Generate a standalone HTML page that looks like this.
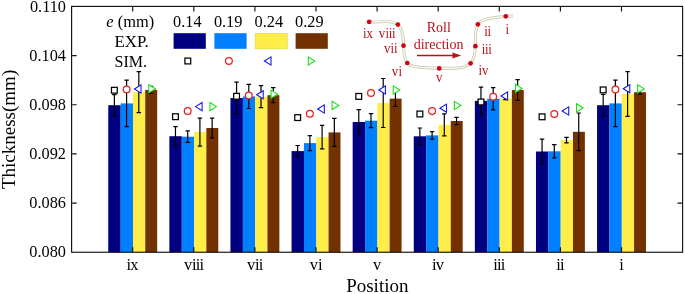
<!DOCTYPE html><html><head><meta charset="utf-8"><style>html,body{margin:0;padding:0;background:#fff;}svg{display:block;will-change:transform;}text{font-family:"Liberation Serif",serif;}</style></head><body>
<svg width="685" height="294" viewBox="0 0 685 294">
<rect width="685" height="294" fill="#fff"/>
<rect x="108.26" y="105.20" width="12.44" height="147.05" fill="#000080"/>
<rect x="120.66" y="103.40" width="12.36" height="148.85" fill="#0080FF"/>
<rect x="132.98" y="92.20" width="12.32" height="160.05" fill="#FFEE4A"/>
<rect x="145.26" y="89.90" width="11.92" height="162.35" fill="#743100"/>
<rect x="169.36" y="136.20" width="12.44" height="116.05" fill="#000080"/>
<rect x="181.76" y="136.70" width="12.36" height="115.55" fill="#0080FF"/>
<rect x="194.08" y="132.10" width="12.32" height="120.15" fill="#FFEE4A"/>
<rect x="206.36" y="128.00" width="11.92" height="124.25" fill="#743100"/>
<rect x="230.46" y="98.00" width="12.44" height="154.25" fill="#000080"/>
<rect x="242.86" y="96.40" width="12.36" height="155.85" fill="#0080FF"/>
<rect x="255.18" y="96.60" width="12.32" height="155.65" fill="#FFEE4A"/>
<rect x="267.46" y="95.20" width="11.92" height="157.05" fill="#743100"/>
<rect x="291.56" y="151.10" width="12.44" height="101.15" fill="#000080"/>
<rect x="303.96" y="143.10" width="12.36" height="109.15" fill="#0080FF"/>
<rect x="316.28" y="137.10" width="12.32" height="115.15" fill="#FFEE4A"/>
<rect x="328.56" y="132.40" width="11.92" height="119.85" fill="#743100"/>
<rect x="352.66" y="122.00" width="12.44" height="130.25" fill="#000080"/>
<rect x="365.06" y="120.70" width="12.36" height="131.55" fill="#0080FF"/>
<rect x="377.38" y="103.00" width="12.32" height="149.25" fill="#FFEE4A"/>
<rect x="389.66" y="98.60" width="11.92" height="153.65" fill="#743100"/>
<rect x="413.76" y="136.30" width="12.44" height="115.95" fill="#000080"/>
<rect x="426.16" y="135.40" width="12.36" height="116.85" fill="#0080FF"/>
<rect x="438.48" y="124.90" width="12.32" height="127.35" fill="#FFEE4A"/>
<rect x="450.76" y="121.00" width="11.92" height="131.25" fill="#743100"/>
<rect x="474.86" y="100.90" width="12.44" height="151.35" fill="#000080"/>
<rect x="487.26" y="98.70" width="12.36" height="153.55" fill="#0080FF"/>
<rect x="499.58" y="98.40" width="12.32" height="153.85" fill="#FFEE4A"/>
<rect x="511.86" y="90.00" width="11.92" height="162.25" fill="#743100"/>
<rect x="535.96" y="151.50" width="12.44" height="100.75" fill="#000080"/>
<rect x="548.36" y="151.30" width="12.36" height="100.95" fill="#0080FF"/>
<rect x="560.68" y="140.10" width="12.32" height="112.15" fill="#FFEE4A"/>
<rect x="572.96" y="131.80" width="11.92" height="120.45" fill="#743100"/>
<rect x="597.06" y="105.20" width="12.44" height="147.05" fill="#000080"/>
<rect x="609.46" y="103.40" width="12.36" height="148.85" fill="#0080FF"/>
<rect x="621.78" y="94.00" width="12.32" height="158.25" fill="#FFEE4A"/>
<rect x="634.06" y="92.20" width="11.92" height="160.05" fill="#743100"/>
<path d="M114.37,94.60V115.80M112.17,94.60H116.57M112.17,115.80H116.57" stroke="#000" stroke-width="1.2" fill="none"/>
<path d="M126.59,80.20V126.60M124.39,80.20H128.79M124.39,126.60H128.79" stroke="#000" stroke-width="1.2" fill="none"/>
<path d="M138.81,71.70V112.70M136.61,71.70H141.01M136.61,112.70H141.01" stroke="#000" stroke-width="1.2" fill="none"/>
<path d="M151.03,86.30V93.50M148.83,86.30H153.23M148.83,93.50H153.23" stroke="#000" stroke-width="1.2" fill="none"/>
<path d="M175.47,126.60V145.80M173.27,126.60H177.67M173.27,145.80H177.67" stroke="#000" stroke-width="1.2" fill="none"/>
<path d="M187.69,130.95V142.45M185.49,130.95H189.89M185.49,142.45H189.89" stroke="#000" stroke-width="1.2" fill="none"/>
<path d="M199.91,118.10V146.10M197.71,118.10H202.11M197.71,146.10H202.11" stroke="#000" stroke-width="1.2" fill="none"/>
<path d="M212.13,118.20V137.80M209.93,118.20H214.33M209.93,137.80H214.33" stroke="#000" stroke-width="1.2" fill="none"/>
<path d="M236.57,82.10V113.90M234.37,82.10H238.77M234.37,113.90H238.77" stroke="#000" stroke-width="1.2" fill="none"/>
<path d="M248.79,84.30V108.50M246.59,84.30H250.99M246.59,108.50H250.99" stroke="#000" stroke-width="1.2" fill="none"/>
<path d="M261.01,85.60V107.60M258.81,85.60H263.21M258.81,107.60H263.21" stroke="#000" stroke-width="1.2" fill="none"/>
<path d="M273.23,87.70V102.70M271.03,87.70H275.43M271.03,102.70H275.43" stroke="#000" stroke-width="1.2" fill="none"/>
<path d="M297.67,145.50V156.70M295.47,145.50H299.87M295.47,156.70H299.87" stroke="#000" stroke-width="1.2" fill="none"/>
<path d="M309.89,135.60V150.60M307.69,135.60H312.09M307.69,150.60H312.09" stroke="#000" stroke-width="1.2" fill="none"/>
<path d="M322.11,125.30V148.90M319.91,125.30H324.31M319.91,148.90H324.31" stroke="#000" stroke-width="1.2" fill="none"/>
<path d="M334.33,118.40V146.40M332.13,118.40H336.53M332.13,146.40H336.53" stroke="#000" stroke-width="1.2" fill="none"/>
<path d="M358.77,109.60V134.40M356.57,109.60H360.97M356.57,134.40H360.97" stroke="#000" stroke-width="1.2" fill="none"/>
<path d="M370.99,113.70V127.70M368.79,113.70H373.19M368.79,127.70H373.19" stroke="#000" stroke-width="1.2" fill="none"/>
<path d="M383.21,78.50V127.50M381.01,78.50H385.41M381.01,127.50H385.41" stroke="#000" stroke-width="1.2" fill="none"/>
<path d="M395.43,90.70V106.50M393.23,90.70H397.63M393.23,106.50H397.63" stroke="#000" stroke-width="1.2" fill="none"/>
<path d="M419.87,128.00V144.60M417.67,128.00H422.07M417.67,144.60H422.07" stroke="#000" stroke-width="1.2" fill="none"/>
<path d="M432.09,131.70V139.10M429.89,131.70H434.29M429.89,139.10H434.29" stroke="#000" stroke-width="1.2" fill="none"/>
<path d="M444.31,113.90V135.90M442.11,113.90H446.51M442.11,135.90H446.51" stroke="#000" stroke-width="1.2" fill="none"/>
<path d="M456.53,117.40V124.60M454.33,117.40H458.73M454.33,124.60H458.73" stroke="#000" stroke-width="1.2" fill="none"/>
<path d="M480.97,87.20V114.60M478.77,87.20H483.17M478.77,114.60H483.17" stroke="#000" stroke-width="1.2" fill="none"/>
<path d="M493.19,87.60V109.80M490.99,87.60H495.39M490.99,109.80H495.39" stroke="#000" stroke-width="1.2" fill="none"/>
<path d="M505.41,97.20V99.60M503.21,97.20H507.61M503.21,99.60H507.61" stroke="#000" stroke-width="1.2" fill="none"/>
<path d="M517.63,79.60V100.40M515.43,79.60H519.83M515.43,100.40H519.83" stroke="#000" stroke-width="1.2" fill="none"/>
<path d="M542.07,139.10V163.90M539.87,139.10H544.27M539.87,163.90H544.27" stroke="#000" stroke-width="1.2" fill="none"/>
<path d="M554.29,144.70V157.90M552.09,144.70H556.49M552.09,157.90H556.49" stroke="#000" stroke-width="1.2" fill="none"/>
<path d="M566.51,137.30V142.90M564.31,137.30H568.71M564.31,142.90H568.71" stroke="#000" stroke-width="1.2" fill="none"/>
<path d="M578.73,113.00V150.60M576.53,113.00H580.93M576.53,150.60H580.93" stroke="#000" stroke-width="1.2" fill="none"/>
<path d="M603.17,94.30V116.10M600.97,94.30H605.37M600.97,116.10H605.37" stroke="#000" stroke-width="1.2" fill="none"/>
<path d="M615.39,80.20V126.60M613.19,80.20H617.59M613.19,126.60H617.59" stroke="#000" stroke-width="1.2" fill="none"/>
<path d="M627.61,71.60V116.40M625.41,71.60H629.81M625.41,116.40H629.81" stroke="#000" stroke-width="1.2" fill="none"/>
<path d="M639.83,90.20V94.20M637.63,90.20H642.03M637.63,94.20H642.03" stroke="#000" stroke-width="1.2" fill="none"/>
<rect x="111.47" y="87.35" width="5.80" height="5.80" fill="#fff" stroke="#000000" stroke-width="1.25"/>
<circle cx="126.59" cy="89.40" r="3.40" fill="#fff" stroke="#E82020" stroke-width="1.25"/>
<path d="M134.41,89.00 L141.01,84.90 L141.01,93.10 Z" fill="#fff" stroke="#1010F0" stroke-width="1.05" stroke-linejoin="miter"/>
<path d="M155.43,88.80 L148.83,84.70 L148.83,92.90 Z" fill="#fff" stroke="#10E010" stroke-width="1.05" stroke-linejoin="miter"/>
<rect x="172.57" y="113.80" width="5.80" height="5.80" fill="#fff" stroke="#000000" stroke-width="1.25"/>
<circle cx="187.69" cy="111.00" r="3.40" fill="#fff" stroke="#E82020" stroke-width="1.25"/>
<path d="M195.51,106.60 L202.11,102.50 L202.11,110.70 Z" fill="#fff" stroke="#1010F0" stroke-width="1.05" stroke-linejoin="miter"/>
<path d="M216.53,106.60 L209.93,102.50 L209.93,110.70 Z" fill="#fff" stroke="#10E010" stroke-width="1.05" stroke-linejoin="miter"/>
<rect x="233.67" y="93.40" width="5.80" height="5.80" fill="#fff" stroke="#000000" stroke-width="1.25"/>
<circle cx="248.79" cy="95.40" r="3.40" fill="#fff" stroke="#E82020" stroke-width="1.25"/>
<path d="M256.61,94.80 L263.21,90.70 L263.21,98.90 Z" fill="#fff" stroke="#1010F0" stroke-width="1.05" stroke-linejoin="miter"/>
<path d="M277.63,94.20 L271.03,90.10 L271.03,98.30 Z" fill="#fff" stroke="#10E010" stroke-width="1.05" stroke-linejoin="miter"/>
<rect x="294.77" y="114.70" width="5.80" height="5.80" fill="#fff" stroke="#000000" stroke-width="1.25"/>
<circle cx="309.89" cy="113.70" r="3.40" fill="#fff" stroke="#E82020" stroke-width="1.25"/>
<path d="M317.71,109.00 L324.31,104.90 L324.31,113.10 Z" fill="#fff" stroke="#1010F0" stroke-width="1.05" stroke-linejoin="miter"/>
<path d="M338.73,105.40 L332.13,101.30 L332.13,109.50 Z" fill="#fff" stroke="#10E010" stroke-width="1.05" stroke-linejoin="miter"/>
<rect x="355.87" y="93.50" width="5.80" height="5.80" fill="#fff" stroke="#000000" stroke-width="1.25"/>
<circle cx="370.99" cy="93.00" r="3.40" fill="#fff" stroke="#E82020" stroke-width="1.25"/>
<path d="M378.81,90.00 L385.41,85.90 L385.41,94.10 Z" fill="#fff" stroke="#1010F0" stroke-width="1.05" stroke-linejoin="miter"/>
<path d="M399.83,90.00 L393.23,85.90 L393.23,94.10 Z" fill="#fff" stroke="#10E010" stroke-width="1.05" stroke-linejoin="miter"/>
<rect x="416.97" y="111.10" width="5.80" height="5.80" fill="#fff" stroke="#000000" stroke-width="1.25"/>
<circle cx="432.09" cy="111.10" r="3.40" fill="#fff" stroke="#E82020" stroke-width="1.25"/>
<path d="M439.91,108.20 L446.51,104.10 L446.51,112.30 Z" fill="#fff" stroke="#1010F0" stroke-width="1.05" stroke-linejoin="miter"/>
<path d="M460.93,105.50 L454.33,101.40 L454.33,109.60 Z" fill="#fff" stroke="#10E010" stroke-width="1.05" stroke-linejoin="miter"/>
<rect x="478.07" y="99.10" width="5.80" height="5.80" fill="#fff" stroke="#000000" stroke-width="1.25"/>
<circle cx="493.19" cy="96.80" r="3.40" fill="#fff" stroke="#E82020" stroke-width="1.25"/>
<path d="M501.01,96.00 L507.61,91.90 L507.61,100.10 Z" fill="#fff" stroke="#1010F0" stroke-width="1.05" stroke-linejoin="miter"/>
<path d="M522.03,88.40 L515.43,84.30 L515.43,92.50 Z" fill="#fff" stroke="#10E010" stroke-width="1.05" stroke-linejoin="miter"/>
<rect x="539.17" y="113.90" width="5.80" height="5.80" fill="#fff" stroke="#000000" stroke-width="1.25"/>
<circle cx="554.29" cy="114.00" r="3.40" fill="#fff" stroke="#E82020" stroke-width="1.25"/>
<path d="M562.11,111.00 L568.71,106.90 L568.71,115.10 Z" fill="#fff" stroke="#1010F0" stroke-width="1.05" stroke-linejoin="miter"/>
<path d="M583.13,107.80 L576.53,103.70 L576.53,111.90 Z" fill="#fff" stroke="#10E010" stroke-width="1.05" stroke-linejoin="miter"/>
<rect x="600.27" y="87.00" width="5.80" height="5.80" fill="#fff" stroke="#000000" stroke-width="1.25"/>
<circle cx="615.39" cy="89.50" r="3.40" fill="#fff" stroke="#E82020" stroke-width="1.25"/>
<path d="M623.21,88.70 L629.81,84.60 L629.81,92.80 Z" fill="#fff" stroke="#1010F0" stroke-width="1.05" stroke-linejoin="miter"/>
<path d="M644.23,88.90 L637.63,84.80 L637.63,93.00 Z" fill="#fff" stroke="#10E010" stroke-width="1.05" stroke-linejoin="miter"/>
<rect x="71.6" y="6.4" width="611.0" height="245.85" fill="none" stroke="#111" stroke-width="1.15"/>
<path d="M72.15,55.57h4.5M682.05,55.57h-4.5M72.15,104.74h4.5M682.05,104.74h-4.5M72.15,153.91h4.5M682.05,153.91h-4.5M72.15,203.08h4.5M682.05,203.08h-4.5M132.70,251.70v-4.5M132.70,6.95v4.5M193.80,251.70v-4.5M193.80,6.95v4.5M254.90,251.70v-4.5M254.90,6.95v4.5M316.00,251.70v-4.5M316.00,6.95v4.5M377.10,251.70v-4.5M377.10,6.95v4.5M438.20,251.70v-4.5M438.20,6.95v4.5M499.30,251.70v-4.5M499.30,6.95v4.5M560.40,251.70v-4.5M560.40,6.95v4.5M621.50,251.70v-4.5M621.50,6.95v4.5" stroke="#111" stroke-width="1.15" fill="none"/>
<text transform="translate(66,11.80) scale(1,1.06)" font-size="16.3" text-anchor="end">0.110</text>
<text transform="translate(66,60.85) scale(1,1.06)" font-size="16.3" text-anchor="end">0.104</text>
<text transform="translate(66,109.90) scale(1,1.06)" font-size="16.3" text-anchor="end">0.098</text>
<text transform="translate(66,158.95) scale(1,1.06)" font-size="16.3" text-anchor="end">0.092</text>
<text transform="translate(66,208.00) scale(1,1.06)" font-size="16.3" text-anchor="end">0.086</text>
<text transform="translate(66,257.05) scale(1,1.06)" font-size="16.3" text-anchor="end">0.080</text>
<text x="126.62 130.27" y="269.70" font-size="16.5">ix</text>
<text x="183.98 192.08 195.73 199.38" y="269.70" font-size="16.5">viii</text>
<text x="246.90 255.00 258.65" y="269.70" font-size="16.5">vii</text>
<text x="309.82 317.93" y="269.70" font-size="16.5">vi</text>
<text x="372.98" y="269.70" font-size="16.5">v</text>
<text x="432.06 435.71" y="269.70" font-size="16.5">iv</text>
<text x="493.33 496.98 500.63" y="269.70" font-size="16.5">iii</text>
<text x="556.25 559.90" y="269.70" font-size="16.5">ii</text>
<text x="619.18" y="269.70" font-size="16.5">i</text>
<text x="377.3" y="292" font-size="19" text-anchor="middle">Position</text>
<text transform="translate(15,129.4) rotate(-90)" font-size="19" text-anchor="middle">Thickness(mm)</text>
<text x="106.3" y="27" font-size="16.4"><tspan font-style="italic">e</tspan> (mm)</text>
<text x="114.5" y="47" font-size="16.9">EXP.</text>
<text x="114.5" y="67" font-size="16">SIM.</text>
<text x="173.10" y="26.6" font-size="16.3">0.14</text>
<rect x="173.60" y="33.2" width="32.2" height="15.6" fill="#000080"/>
<text x="213.90" y="26.6" font-size="16.3">0.19</text>
<rect x="214.40" y="33.2" width="32.2" height="15.6" fill="#0080FF"/>
<text x="254.60" y="26.6" font-size="16.3">0.24</text>
<rect x="255.10" y="33.2" width="32.2" height="15.6" fill="#FFEE4A" stroke="#d6cc55" stroke-width="0.5"/>
<text x="295.10" y="26.6" font-size="16.3">0.29</text>
<rect x="295.60" y="33.2" width="32.2" height="15.6" fill="#743100"/>
<rect x="184.90" y="58.10" width="5.80" height="5.80" fill="#fff" stroke="#000000" stroke-width="1.25"/>
<circle cx="228.90" cy="61.00" r="3.40" fill="#fff" stroke="#E82020" stroke-width="1.25"/>
<path d="M264.40,61.00 L271.00,56.90 L271.00,65.10 Z" fill="#fff" stroke="#1010F0" stroke-width="1.05" stroke-linejoin="miter"/>
<path d="M314.90,61.00 L308.30,56.90 L308.30,65.10 Z" fill="#fff" stroke="#10E010" stroke-width="1.05" stroke-linejoin="miter"/>
<path d="M365.3,22.9 C370,22.2 378,21.8 386,21.6 C391,21.5 394.5,22.3 397.5,24.4 C400.5,26.8 402.3,31 403,37 C403.6,42 403.6,47 404,52 C404.4,57 405.3,60.5 407.5,63.5 C409.5,65.6 413,66.6 420,67.3 C428,67.9 433,68.2 440,68.3 L455,68.3 C462,68 467,66.5 470.3,63.5 C473.3,60.5 474.6,56 475.1,50 C475.5,44 475.3,36 476,31 C476.6,27 477.5,24.5 480,22 C484,19 490,18.2 497,17.3 C503,16.6 508,16.2 512.8,16.0" fill="none" stroke="#c2c0a8" stroke-width="2.9" stroke-linecap="butt"/>
<path d="M365.3,22.9 C370,22.2 378,21.8 386,21.6 C391,21.5 394.5,22.3 397.5,24.4 C400.5,26.8 402.3,31 403,37 C403.6,42 403.6,47 404,52 C404.4,57 405.3,60.5 407.5,63.5 C409.5,65.6 413,66.6 420,67.3 C428,67.9 433,68.2 440,68.3 L455,68.3 C462,68 467,66.5 470.3,63.5 C473.3,60.5 474.6,56 475.1,50 C475.5,44 475.3,36 476,31 C476.6,27 477.5,24.5 480,22 C484,19 490,18.2 497,17.3 C503,16.6 508,16.2 512.8,16.0" fill="none" stroke="#fbfaf0" stroke-width="1.5" stroke-linecap="butt"/>
<circle cx="369.2" cy="21.8" r="2.35" fill="#D00010"/>
<circle cx="397.9" cy="24.6" r="2.35" fill="#D00010"/>
<circle cx="403.5" cy="45.7" r="2.35" fill="#D00010"/>
<circle cx="407.3" cy="63.0" r="2.35" fill="#D00010"/>
<circle cx="439.2" cy="68.4" r="2.35" fill="#D00010"/>
<circle cx="470.6" cy="63.3" r="2.35" fill="#D00010"/>
<circle cx="475.4" cy="46.2" r="2.35" fill="#D00010"/>
<circle cx="477.9" cy="24.3" r="2.35" fill="#D00010"/>
<circle cx="505.8" cy="16.3" r="2.35" fill="#D00010"/>
<text transform="translate(363.10,37.90) scale(0.92,1)" x="0.00 3.59" y="0" font-size="14" fill="#B8101C">ix</text>
<text transform="translate(378.80,37.90) scale(0.92,1)" x="0.00 7.28 10.87 14.46" y="0" font-size="14" fill="#B8101C">viii</text>
<text transform="translate(383.90,52.80) scale(0.92,1)" x="0.00 7.28 10.87" y="0" font-size="14" fill="#B8101C">vii</text>
<text transform="translate(391.80,75.50) scale(0.92,1)" x="0.00 7.28" y="0" font-size="14" fill="#B8101C">vi</text>
<text transform="translate(435.90,81.50) scale(0.92,1)" x="0.00" y="0" font-size="14" fill="#B8101C">v</text>
<text transform="translate(478.60,75.10) scale(0.92,1)" x="0.00 3.59" y="0" font-size="14" fill="#B8101C">iv</text>
<text transform="translate(481.75,53.60) scale(0.92,1)" x="0.00 3.59 7.17" y="0" font-size="14" fill="#B8101C">iii</text>
<text transform="translate(484.15,36.00) scale(0.92,1)" x="0.00 3.59" y="0" font-size="14" fill="#B8101C">ii</text>
<text transform="translate(505.45,33.60) scale(0.92,1)" x="0.00" y="0" font-size="14" fill="#B8101C">i</text>
<text x="438.8" y="32" font-size="14" fill="#B8101C" text-anchor="middle">Roll</text>
<text x="438.6" y="48.7" font-size="14" fill="#B8101C" text-anchor="middle">direction</text>
<path d="M417,55.5H455" stroke="#B8101C" stroke-width="1.4"/>
<path d="M461.2,55.5L452.5,52.6L452.5,58.4Z" fill="#B8101C"/>
</svg></body></html>
